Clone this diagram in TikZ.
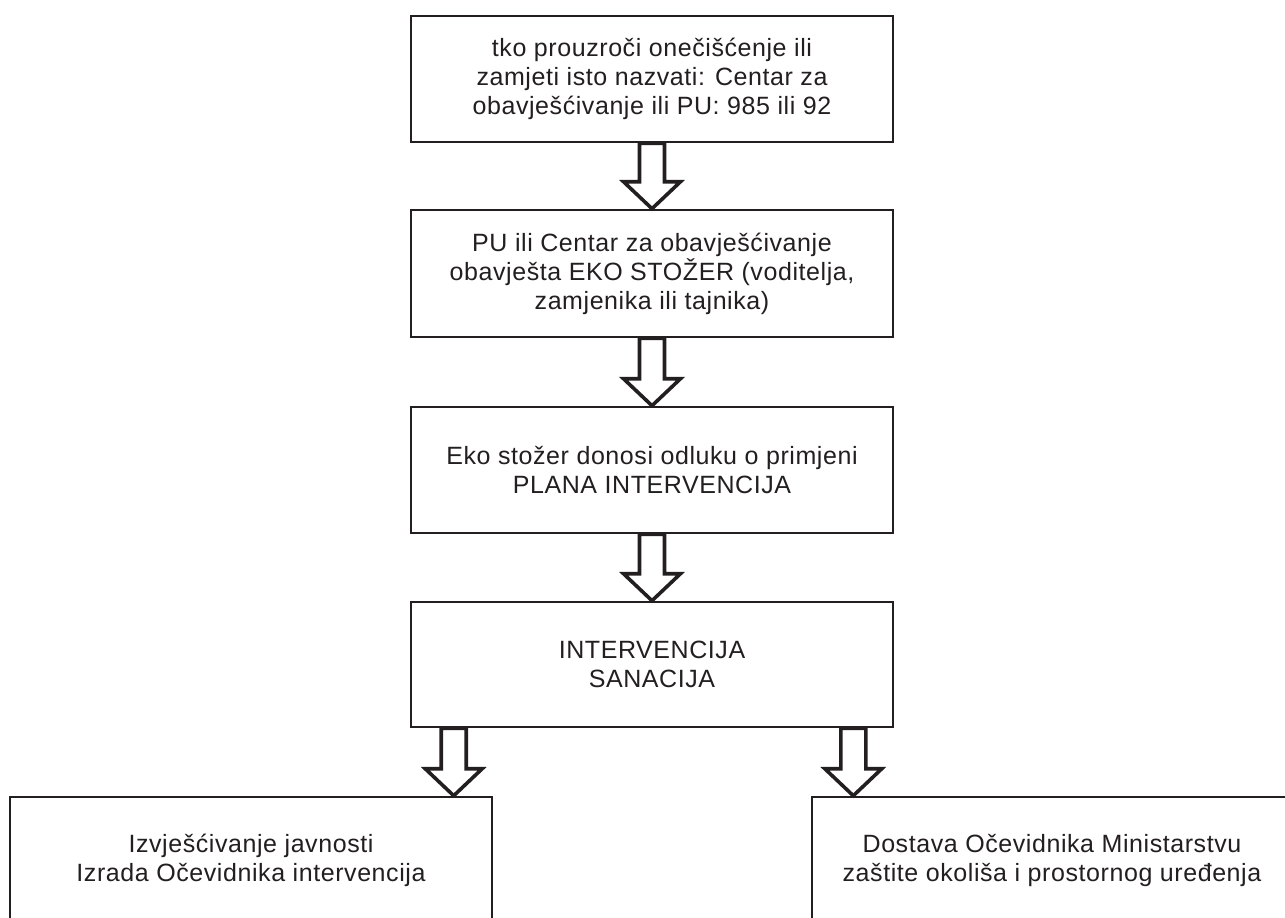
\documentclass[tikz,border=0pt]{standalone}
\usepackage{fontspec}
\setmainfont{Liberation Sans}[LetterSpace=2.3]
\usetikzlibrary{calc}
\definecolor{ink}{HTML}{231F20}
\tikzset{
  flowbox/.style={draw=ink, line width=2.6pt, rectangle, minimum width=482pt, minimum height=126pt,
    text=ink, align=center, inner sep=0pt, font=\fontsize{25pt}{29pt}\selectfont},
  blockarrow/.style={draw=ink, fill=white, line width=3.6pt, miter limit=10}
}
\newcommand{\fatarrow}[2]{%
  \draw[blockarrow] let \p1=(#1), \p2=(#2) in
    (\x1-12.5pt,\y1) -- (\x1-12.5pt,\y2+27pt) -- (\x1-28.5pt,\y2+27pt) -- (\x1,\y2)
    -- (\x1+28.5pt,\y2+27pt) -- (\x1+12.5pt,\y2+27pt) -- (\x1+12.5pt,\y1) -- cycle;}
\begin{document}
\begin{tikzpicture}[x=1pt,y=-1pt]
\useasboundingbox (0,0) rectangle (1285,918);
\clip (0,0) rectangle (1285,918);
\fill[white] (0,0) rectangle (1285,918);
\node[flowbox] (b1) at (652,79) {tko prouzroči onečišćenje ili\\zamjeti isto nazvati: Centar za\\obavješćivanje ili PU: 985 ili 92};
\node[flowbox, minimum height=127pt] (b2) at (652,273.5) {PU ili Centar za obavješćivanje\\obavješta EKO STOŽER (voditelja,\\zamjenika ili tajnika)};
\node[flowbox] (b3) at (652,470) {Eko stožer donosi odluku o primjeni\\PLANA INTERVENCIJA};
\node[flowbox, minimum height=125pt] (b4) at (652,664.5) {INTERVENCIJA\\SANACIJA};
\node[flowbox] (b5) at (251,860) {Izvješćivanje javnosti\\Izrada Očevidnika intervencija};
\node[flowbox, minimum width=480pt] (b6) at (1052,860) {Dostava Očevidnika Ministarstvu\\zaštite okoliša i prostornog uređenja};
\fatarrow{b1.south}{b2.north}
\fatarrow{b2.south}{b3.north}
\fatarrow{b3.south}{b4.north}
\coordinate (a4s) at ($(b4.south west)+(44,0)$);
\coordinate (a4e) at ($(b5.north east)+(-37,0)$);
\coordinate (a5s) at ($(b4.south east)+(-41,0)$);
\coordinate (a5e) at ($(b6.north west)+(40,0)$);
\fatarrow{a4s}{a4e}
\fatarrow{a5s}{a5e}
\end{tikzpicture}
\end{document}
